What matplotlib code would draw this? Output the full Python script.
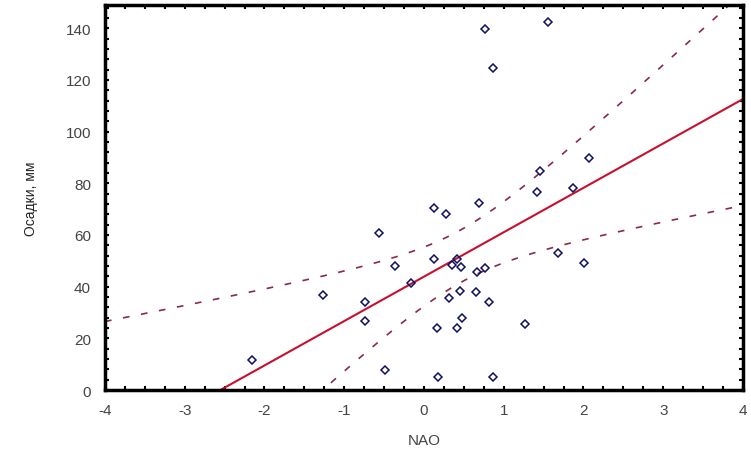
import numpy as np
import matplotlib
matplotlib.use("Agg")
import matplotlib.pyplot as plt
from matplotlib.ticker import MultipleLocator

# NAO index vs precipitation (mm)
nao = [-2.16, -1.27, -0.74, -0.74, -0.56, -0.49, -0.36, -0.16,
       0.12, 0.12, 0.16, 0.17, 0.28, 0.31, 0.35, 0.41, 0.42, 0.45,
       0.46, 0.48, 0.65, 0.66, 0.69, 0.76, 0.77, 0.81, 0.86, 0.86,
       1.27, 1.42, 1.46, 1.55, 1.68, 1.87, 2.01, 2.07]
precip = [11.6, 36.9, 34.2, 26.6, 60.7, 7.9, 48.1, 41.6,
          70.6, 50.7, 24.0, 5.2, 68.3, 35.8, 48.3, 50.7, 24.0, 38.4,
          47.8, 27.8, 38.0, 45.5, 72.2, 47.1, 139.9, 34.2, 124.8, 5.2,
          25.5, 76.8, 84.6, 142.4, 53.2, 78.1, 49.1, 89.7]

x_ticks = [-4, -3, -2, -1, 0, 1, 2, 3, 4]
y_ticks = [0, 20, 40, 60, 80, 100, 120, 140]

x = np.array(nao)
y = np.array(precip)
n = len(x)

# linear regression with 95% confidence band for the mean
slope, intercept = np.polyfit(x, y, 1)
resid = y - (intercept + slope * x)
s = np.sqrt(np.sum(resid ** 2) / (n - 2))
sxx = np.sum((x - x.mean()) ** 2)
t95 = 2.032  # t(0.975, n-2)

xs = np.linspace(-4, 4, 200)
fit = intercept + slope * xs
half = t95 * s * np.sqrt(1.0 / n + (xs - x.mean()) ** 2 / sxx)

plt.rcParams['font.family'] = ['Liberation Sans', 'DejaVu Sans']
plt.rcParams['axes.unicode_minus'] = False

fig = plt.figure(figsize=(7.51, 4.56), dpi=100)
ax = fig.add_axes([0.1398, 0.1425, 0.8495, 0.8443])

band_color = '#8a2a45'
ax.plot(xs, fit + half, color=band_color, lw=1.2, dashes=(4, 7))
ax.plot(xs, fit - half, color=band_color, lw=1.2, dashes=(4, 7))
ax.plot(xs, fit, color='#c8102e', lw=1.5)
ax.plot(x, y, linestyle='none', marker='D', markersize=4,
        markerfacecolor='none', markeredgecolor='#101060', markeredgewidth=1.1)

ax.set_xlim(-4, 4)
ax.set_ylim(0, 149)
ax.set_xticks(x_ticks)
ax.set_yticks(y_ticks)
ax.xaxis.set_minor_locator(MultipleLocator(0.25))
ax.yaxis.set_minor_locator(MultipleLocator(4))
ax.tick_params(which='both', direction='in', top=True, right=True,
               length=3, width=1.5, labelsize=11, labelcolor='#444444')
ax.tick_params(axis='x', pad=9)
ax.tick_params(axis='y', pad=10)

for sp in ax.spines.values():
    sp.set_linewidth(2.5)

ax.set_xlabel("NAO", fontsize=11, color='#444444', labelpad=12)
ax.set_ylabel("Осадки, мм", fontsize=10, color='#222222', labelpad=20)

fig.savefig("out.png", dpi=100)
